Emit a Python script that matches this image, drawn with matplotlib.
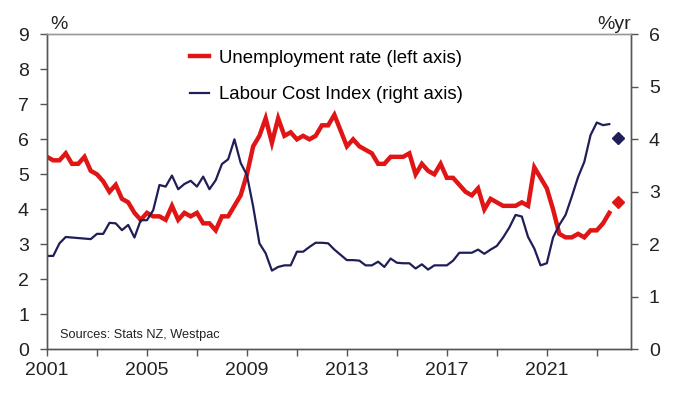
import matplotlib.pyplot as plt
import numpy as np

plt.rcParams['font.family'] = ['Liberation Sans', 'DejaVu Sans']

# quarterly data, first point = 2001 Q1
unemp = [5.5, 5.4, 5.4, 5.6, 5.3, 5.3, 5.5, 5.1, 5.0, 4.8,
         4.5, 4.7, 4.3, 4.2, 3.9, 3.7, 3.9, 3.8, 3.8, 3.7,
         4.1, 3.7, 3.9, 3.8, 3.9, 3.6, 3.6, 3.4, 3.8, 3.8,
         4.1, 4.4, 5.0, 5.8, 6.1, 6.6, 5.9, 6.6, 6.1, 6.2,
         6.0, 6.1, 6.0, 6.1, 6.4, 6.4, 6.7, 6.25, 5.8, 6.0,
         5.8, 5.7, 5.6, 5.3, 5.3, 5.5, 5.5, 5.5, 5.6, 5.0,
         5.3, 5.1, 5.0, 5.3, 4.9, 4.9, 4.7, 4.5, 4.4, 4.6,
         4.0, 4.3, 4.2, 4.1, 4.1, 4.1, 4.2, 4.1, 5.2, 4.9,
         4.6, 4.0, 3.3, 3.2, 3.2, 3.3, 3.2, 3.4, 3.4, 3.6,
         3.9]
lci = [1.78, 1.78, 2.02, 2.14, 2.13, 2.12, 2.11, 2.1, 2.2, 2.2,
       2.41, 2.4, 2.27, 2.37, 2.13, 2.46, 2.46, 2.65, 3.13, 3.1,
       3.31, 3.05, 3.15, 3.21, 3.1, 3.29, 3.05, 3.22, 3.53, 3.62,
       4.0, 3.55, 3.32, 2.72, 2.02, 1.83, 1.5, 1.57, 1.6, 1.6,
       1.86, 1.86, 1.95, 2.03, 2.03, 2.02, 1.9, 1.8, 1.7, 1.7,
       1.69, 1.6, 1.6, 1.67, 1.57, 1.73, 1.65, 1.64, 1.64, 1.54,
       1.62, 1.52, 1.6, 1.6, 1.6, 1.69, 1.84, 1.84, 1.84, 1.9,
       1.82, 1.9, 1.97, 2.13, 2.32, 2.56, 2.53, 2.14, 1.92, 1.6,
       1.64, 2.13, 2.37, 2.56, 2.91, 3.28, 3.57, 4.08, 4.32, 4.27,
       4.29]
years = 2001 + np.arange(len(unemp)) / 4

# latest single points (diamonds)
point_year = 2023.85
unemp_point = 4.2
lci_point = 4.02

red = '#E01515'
navy = '#1F1E57'
grey = '#555555'

fig = plt.figure(figsize=(6.86, 3.93), dpi=100)
ax = fig.add_axes([0.0685, 0.111, 0.851, 0.8017])
ax2 = ax.twinx()

ax.plot(years, unemp, color=red, lw=3.2, solid_joinstyle='miter',
        label='Unemployment rate (left axis)')
ax.plot([point_year], [unemp_point], 'D', color=red, ms=6.5)
ax2.plot(years, lci, color=navy, lw=1.6, label='Labour Cost Index (right axis)')
ax2.plot([point_year], [lci_point], 'D', color=navy, ms=6.5)

ax.set_xlim(2001, 2024.36)
ax.set_ylim(0, 9)
ax2.set_ylim(0, 6)
ax.set_xticks([2001, 2005, 2009, 2013, 2017, 2021])
ax.set_xticks([2003, 2007, 2011, 2015, 2019, 2023], minor=True)
ax.set_yticks(range(10))
ax2.set_yticks(range(7))

for a in (ax, ax2):
    for s in a.spines.values():
        s.set_color(grey)
        s.set_linewidth(1.0)
    a.spines['top'].set_color('#9a9a9a')
    a.tick_params(which='both', direction='out', length=5, width=1,
                  color=grey, labelsize=14, labelcolor='#222222', pad=8)
ax.tick_params(axis='x', which='both', pad=4)

ax.text(0.005, 1.005, '%', transform=ax.transAxes, fontsize=14, color='#222222',
        ha='left', va='bottom')
ax.text(1.0, 1.005, '%yr', transform=ax.transAxes, fontsize=14, color='#222222',
        ha='right', va='bottom')
ax.text(0.022, 0.035, 'Sources: Stats NZ, Westpac', transform=ax.transAxes,
        fontsize=9.2, color='#222222')

h1, l1 = ax.get_legend_handles_labels()
h2, l2 = ax2.get_legend_handles_labels()
ax2.legend(h1 + h2, l1 + l2, loc='upper left', bbox_to_anchor=(0.233, 0.975),
           frameon=False, fontsize=13.4, handlelength=1.0, handletextpad=0.55,
           labelspacing=1.05, borderaxespad=0)

fig.savefig('out.png', dpi=100)
